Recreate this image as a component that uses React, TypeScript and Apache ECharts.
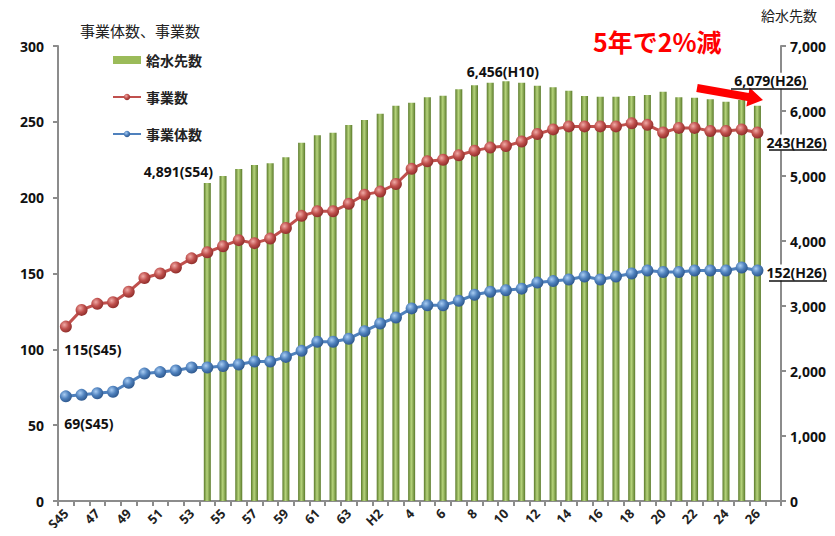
import React, { useEffect, useRef } from "react";
import * as echarts from "echarts";

const categories = [
  "S45", "46", "47", "48", "49", "50", "51", "52", "53", "54",
  "55", "56", "57", "58", "59", "60", "61", "62", "63",
  "H1", "H2", "3", "4", "5", "6", "7", "8", "9", "10",
  "11", "12", "13", "14", "15", "16", "17", "18", "19", "20",
  "21", "22", "23", "24", "25", "26", "",
];

const kyusuisakiSu = [
  null, null, null, null, null, null, null, null, null,
  4891, 5000, 5108, 5169, 5195, 5287, 5513, 5626, 5667, 5785,
  5862, 5959, 6082, 6128, 6210, 6236, 6333, 6395, 6436, 6456,
  6436, 6390, 6364, 6313, 6230, 6220, 6220, 6230, 6246, 6297,
  6210, 6205, 6180, 6143, 6169, 6079, null,
];

const jigyouSu = [
  115, 126, 130, 131, 138, 147, 150, 154, 160,
  164, 168, 172, 170, 173, 180, 188, 191, 191, 196,
  202, 204, 209, 219, 224, 225, 228, 231, 233, 234,
  237, 242, 245, 247, 247, 247, 247, 249, 248, 243,
  246, 246, 244, 244, 245, 243, null,
];

const jigyoutaiSu = [
  69, 70, 71, 72, 78, 84, 85, 86, 88,
  88, 89, 90, 92, 92, 95, 99, 105, 105, 107,
  112, 117, 121, 127, 129, 129, 132, 136, 138, 139,
  140, 144, 145, 146, 148, 146, 148, 150, 152, 151,
  151, 152, 152, 152, 154, 152, null,
];

const eraNames = [
  "S45", "S46", "S47", "S48", "S49", "S50", "S51", "S52", "S53", "S54",
  "S55", "S56", "S57", "S58", "S59", "S60", "S61", "S62", "S63",
  "H1", "H2", "H3", "H4", "H5", "H6", "H7", "H8", "H9", "H10",
  "H11", "H12", "H13", "H14", "H15", "H16", "H17", "H18", "H19", "H20",
  "H21", "H22", "H23", "H24", "H25", "H26", "",
];

const FONT = "'Noto Sans', 'Noto Sans CJK JP', sans-serif";
const JP = "'Noto Sans CJK JP', sans-serif";

const labelStyle = {
  show: true,
  color: "#111",
  fontSize: 14,
  fontWeight: "bold" as const,
  fontFamily: FONT,
};

function withLabels(values: (number | null)[], labels: Record<number, any>) {
  return values.map((v, i) => {
    if (labels[i] && v != null) {
      return {
        value: v,
        label: {
          ...labelStyle,
          formatter: `${v.toLocaleString("en-US")}(${eraNames[i]})`,
          ...labels[i],
        },
      };
    }
    return v;
  });
}

const barGradient = new echarts.graphic.LinearGradient(0, 0, 1, 0, [
  { offset: 0, color: "#5a7a2a" },
  { offset: 0.45, color: "#b6d47c" },
  { offset: 1, color: "#5a7a2a" },
]);

const redBall = new echarts.graphic.RadialGradient(0.38, 0.35, 0.7, [
  { offset: 0, color: "#f0aaa6" },
  { offset: 0.5, color: "#c0504d" },
  { offset: 1, color: "#8a2a27" },
]);

const blueBall = new echarts.graphic.RadialGradient(0.38, 0.35, 0.7, [
  { offset: 0, color: "#a9cdf3" },
  { offset: 0.5, color: "#4f81bd" },
  { offset: 1, color: "#2a5388" },
]);

const whiteBox = { backgroundColor: "#ffffff", padding: [1, 1, 1, 1] };

export default function App() {
  const ref = useRef<HTMLDivElement>(null);

  useEffect(() => {
    if (!ref.current) return;
    const chart = echarts.init(ref.current, undefined, { renderer: "svg" });
    const axisGray = "#8c8c8c";
    chart.setOption({
      animation: false,
      backgroundColor: "#ffffff",
      textStyle: { fontFamily: FONT },
      title: {
        text: "5年で2%減",
        left: 588,
        top: 23,
        textStyle: {
          color: "#ff0000",
          fontSize: 25,
          fontWeight: "bold",
          fontFamily: JP,
        },
      },
      legend: {
        orient: "vertical",
        left: 107,
        top: 48,
        itemGap: 23,
        itemWidth: 28,
        itemHeight: 8,
        textStyle: { fontSize: 14, fontWeight: "bold", color: "#222", fontFamily: JP },
        data: [
          { name: "給水先数", icon: "rect", itemStyle: { color: "#9bbb59" } },
          { name: "事業数" },
          { name: "事業体数" },
        ],
      },
      grid: { left: 58, right: 54, top: 46, bottom: 35, containLabel: false },
      xAxis: {
        type: "category",
        data: categories,
        boundaryGap: true,
        axisLine: { lineStyle: { color: axisGray, width: 2 } },
        axisTick: { show: true, interval: 0, length: 5, lineStyle: { color: axisGray, width: 2 } },
        axisLabel: {
          interval: 1,
          rotate: 45,
          margin: 10,
          fontSize: 13,
          fontWeight: "bold",
          color: "#222",
          fontFamily: FONT,
        },
        splitLine: { show: false },
      },
      yAxis: [
        {
          type: "value",
          min: 0,
          max: 300,
          interval: 50,
          axisLine: { show: true, lineStyle: { color: axisGray, width: 2 } },
          axisTick: { show: true, length: 5, lineStyle: { color: axisGray, width: 2 } },
          axisLabel: { margin: 14, fontSize: 14, fontWeight: "bold", color: "#111", fontFamily: FONT },
          splitLine: { show: false },
        },
        {
          type: "value",
          min: 0,
          max: 7000,
          interval: 1000,
          position: "right",
          axisLine: { show: true, lineStyle: { color: axisGray, width: 2 } },
          axisTick: { show: true, length: 5, lineStyle: { color: axisGray, width: 2 } },
          axisLabel: {
            margin: 9,
            fontSize: 14,
            fontWeight: "bold",
            color: "#111",
            fontFamily: FONT,
            formatter: (v: number) => v.toLocaleString("en-US"),
          },
          splitLine: { show: false },
        },
      ],
      series: [
        {
          name: "給水先数",
          type: "bar",
          yAxisIndex: 1,
          barWidth: 7,
          itemStyle: { color: barGradient },
          data: withLabels(kyusuisakiSu, {
            9: { position: "top", distance: 5, offset: [-29, 0] },
            28: { position: "top", distance: 3, offset: [-3, 0] },
            44: { position: "top", distance: 4, offset: [13, -13], ...whiteBox },
          }),
          z: 1,
        },
        {
          name: "事業数",
          type: "line",
          yAxisIndex: 0,
          symbol: "circle",
          symbolSize: 12,
          showAllSymbol: true,
          lineStyle: { color: "#c0504d", width: 3 },
          itemStyle: { color: redBall, borderWidth: 0 },
          data: withLabels(jigyouSu, {
            0: { position: "bottom", offset: [27, 5] },
            44: { position: "right", distance: 1, offset: [1, 10], ...whiteBox },
          }),
          z: 3,
        },
        {
          name: "事業体数",
          type: "line",
          yAxisIndex: 0,
          symbol: "circle",
          symbolSize: 12,
          showAllSymbol: true,
          lineStyle: { color: "#4f81bd", width: 3 },
          itemStyle: { color: blueBall, borderWidth: 0 },
          data: withLabels(jigyoutaiSu, {
            0: { position: "bottom", offset: [23, 9] },
            44: { position: "right", distance: 1, offset: [1, 2], ...whiteBox },
          }),
          z: 3,
        },
      ],
      graphic: [
        {
          type: "text",
          left: 80,
          top: 23,
          style: { text: "事業体数、事業数", fontSize: 15, fill: "#222", fontFamily: JP },
        },
        {
          type: "text",
          left: 761,
          top: 8,
          style: { text: "給水先数", fontSize: 14, fill: "#222", fontFamily: JP },
        },
        {
          type: "polygon",
          shape: {
            points: [
              [697.7, 84.1],
              [748.7, 93.1],
              [749.6, 87.6],
              [763, 100],
              [746.4, 106.4],
              [747.3, 100.9],
              [696.3, 91.9],
            ],
          },
          style: { fill: "#ff0000" },
          z: 10,
        },
        { type: "line", shape: { x1: 731, y1: 89, x2: 808, y2: 89 }, style: { stroke: "#111", lineWidth: 1.3 }, z: 20 },
        { type: "line", shape: { x1: 769, y1: 150, x2: 829, y2: 150 }, style: { stroke: "#111", lineWidth: 1.3 }, z: 20 },
        { type: "line", shape: { x1: 769, y1: 281, x2: 829, y2: 281 }, style: { stroke: "#111", lineWidth: 1.3 }, z: 20 },
      ],
    });
    return () => chart.dispose();
  }, []);

  return <div ref={ref} style={{ width: 835, height: 536, margin: -8 }} />;
}
